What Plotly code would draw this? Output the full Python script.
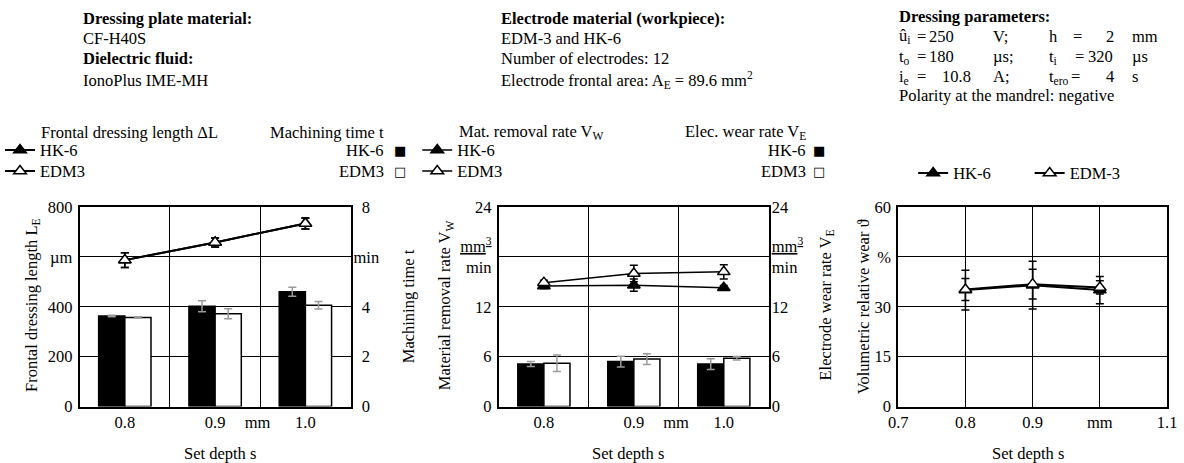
import plotly.graph_objects as go

W, H = 1184, 463
FONT = "'Liberation Serif', 'Times New Roman', Times, serif"
FS = 16.5
GRAY = "#9a9a9a"

# ---------------- data ----------------
depths = [0.8, 0.9, 1.0]

# Panel 1: frontal dressing length (um, left) and machining time (min, right)
dress_len_hk6 = [587, 658, 734]
dress_len_hk6_err = [30, 18, 22]
dress_len_edm3 = [587, 658, 734]
dress_len_edm3_err = [30, 18, 22]
mach_time_hk6 = [3.63, 4.02, 4.60]
mach_time_hk6_err = [0.03, 0.22, 0.18]
mach_time_edm3 = [3.57, 3.72, 4.06]
mach_time_edm3_err = [0.03, 0.20, 0.15]

# Panel 2: material removal rate (left) and electrode wear rate (right), mm3/min
mrr_hk6 = [14.5, 14.6, 14.3]
mrr_hk6_err = [0.3, 0.75, 0.25]
mrr_edm3 = [14.9, 16.0, 16.2]
mrr_edm3_err = [0.3, 1.0, 0.85]
ewr_hk6 = [5.1, 5.4, 5.1]
ewr_hk6_err = [0.3, 0.65, 0.65]
ewr_edm3 = [5.2, 5.7, 5.8]
ewr_edm3_err = [1.0, 0.65, 0.2]

# Panel 3: volumetric relative wear (%)
wear_hk6 = [35.0, 36.5, 35.0]
wear_hk6_err = [6.0, 7.2, 4.1]
wear_edm3 = [35.2, 36.8, 35.8]
wear_edm3_err = [3.3, 4.5, 2.0]

# tick labels
x12_tickvals = [0.8, 0.9, 0.947, 1.0]
x12_ticktext = ["0.8", "0.9", "mm", "1.0"]
x12_boundaries = [0.85, 0.95]
x3_tickvals = [0.7, 0.8, 0.9, 1.0, 1.1]
x3_ticktext = ["0.7", "0.8", "0.9", "mm", "1.1"]
y1_tickvals = [0, 200, 400, 600, 800]
y1_ticktext = ["0", "200", "400", "µm", "800"]
y2_tickvals = [0, 2, 4, 6, 8]
y2_ticktext = ["\u00a0\u00a00", "\u00a0\u00a02", "\u00a0\u00a04", "min", "\u00a0\u00a08"]
y34_tickvals = [0, 6, 12, 18, 24]
y34_ticktext = ["0", "6", "12", "<u>mm<sup>3</sup></u><br>min", "24"]
y5_tickvals = [0, 15, 30, 45, 60]
y5_ticktext = ["0", "15", "30", "%", "60"]


def px_x(v):
    return v / W


def px_y(v):
    return 1 - v / H


def line_trace(y, err, name, filled, xa, ya, legend, lw):
    return go.Scatter(
        x=depths, y=y, mode="lines+markers", name=name, xaxis=xa, yaxis=ya,
        legend=legend, cliponaxis=False,
        line=dict(color="black", width=lw),
        marker=dict(symbol="triangle-up", size=11,
                    color="black" if filled else "white",
                    line=dict(color="black", width=1.5)),
        error_y=dict(type="data", array=err, color="black", thickness=1.5, width=4),
    )


def bar_trace(y, err, name, filled, xa, ya):
    return go.Bar(
        x=depths, y=y, name=name, xaxis=xa, yaxis=ya, showlegend=False,
        marker=dict(color="black" if filled else "white",
                    line=dict(color="black", width=1.5)),
        error_y=dict(type="data", array=err, color=GRAY, thickness=1.5, width=4),
    )


fig = go.Figure()
# panel 1
fig.add_trace(bar_trace(mach_time_hk6, mach_time_hk6_err, "HK-6", True, "x", "y2"))
fig.add_trace(bar_trace(mach_time_edm3, mach_time_edm3_err, "EDM3", False, "x", "y2"))
fig.add_trace(line_trace(dress_len_hk6, dress_len_hk6_err, "HK-6", True, "x", "y", "legend", 2))
fig.add_trace(line_trace(dress_len_edm3, dress_len_edm3_err, "EDM3", False, "x", "y", "legend2", 2))
# panel 2
fig.add_trace(bar_trace(ewr_hk6, ewr_hk6_err, "HK-6", True, "x2", "y4"))
fig.add_trace(bar_trace(ewr_edm3, ewr_edm3_err, "EDM3", False, "x2", "y4"))
fig.add_trace(line_trace(mrr_hk6, mrr_hk6_err, "HK-6", True, "x2", "y3", "legend3", 1.5))
fig.add_trace(line_trace(mrr_edm3, mrr_edm3_err, "EDM3", False, "x2", "y3", "legend4", 1.5))
# panel 3
fig.add_trace(line_trace(wear_hk6, wear_hk6_err, "HK-6", True, "x3", "y5", "legend5", 2))
fig.add_trace(line_trace(wear_edm3, wear_edm3_err, "EDM-3", False, "x3", "y5", "legend6", 2))

tickfont = dict(family=FONT, size=FS, color="black")
ydom = [px_y(406.5), px_y(207)]


def xaxis_cat(dom, anchor):
    return dict(domain=dom, anchor=anchor, range=[0.75, 1.05], tickmode="array",
                tickvals=x12_tickvals, ticktext=x12_ticktext, showgrid=False,
                zeroline=False, showline=True, mirror=True, linecolor="black",
                linewidth=2, ticks="", ticklen=0, tickfont=tickfont, ticklabelstandoff=0,
                minor=dict(tickmode="array", tickvals=x12_boundaries, showgrid=True,
                           gridcolor="black", gridwidth=1.3, ticks=""))


def yaxis_left(anchor, rng, vals, text):
    return dict(domain=ydom, anchor=anchor, range=rng, tickmode="array", tickvals=vals,
                ticktext=text, showgrid=True, gridcolor="black", gridwidth=1.3,
                zeroline=False, showline=True, mirror=True, linecolor="black",
                linewidth=2, ticks="", tickfont=tickfont, ticklabelstandoff=2)


def yaxis_right(overlay, anchor, rng, vals, text):
    return dict(overlaying=overlay, anchor=anchor, side="right", range=rng,
                tickmode="array", tickvals=vals, ticktext=text, showgrid=False,
                zeroline=False, showline=False, ticks="", tickfont=tickfont,
                ticklabelstandoff=2)


layout = dict(
    width=W, height=H, margin=dict(l=0, r=0, t=0, b=0, pad=0),
    paper_bgcolor="white", plot_bgcolor="white", template="none",
    hovermode=False, barmode="group", bargap=0.42, bargroupgap=0,
    font=dict(family=FONT, size=FS, color="black"),
    xaxis=xaxis_cat([px_x(75), px_x(347)], "y"),
    xaxis2=xaxis_cat([px_x(496), px_x(767)], "y3"),
    xaxis3=dict(domain=[px_x(897), px_x(1167)], anchor="y5", range=[0.7, 1.1],
                tickmode="array", tickvals=x3_tickvals, ticktext=x3_ticktext,
                showgrid=True, gridcolor="black", gridwidth=1.3, zeroline=False,
                showline=True, mirror=True, linecolor="black", linewidth=2,
                ticks="", ticklen=0, tickfont=tickfont, ticklabelstandoff=0),
    yaxis=yaxis_left("x", [0, 800], y1_tickvals, y1_ticktext),
    yaxis2=yaxis_right("y", "x", [0, 8], y2_tickvals, y2_ticktext),
    yaxis3=yaxis_left("x2", [0, 24], y34_tickvals, y34_ticktext),
    yaxis4=yaxis_right("y3", "x2", [0, 24], y34_tickvals, y34_ticktext),
    yaxis5=yaxis_left("x3", [0, 60], y5_tickvals, y5_ticktext),
)


def leg(left_px, top_px):
    return dict(x=px_x(left_px), y=px_y(top_px), xanchor="left", yanchor="top",
                bgcolor="rgba(0,0,0,0)", borderwidth=0,
                font=dict(family=FONT, size=FS, color="black"))


layout["legend"] = leg(-5, 132.8)
layout["legend2"] = leg(-5, 153.8)
layout["legend3"] = leg(414, 132.8)
layout["legend4"] = leg(414, 153.8)
layout["legend5"] = leg(912, 155.8)
layout["legend6"] = leg(1029, 155.8)

fig.update_layout(**layout)

annotations = []


def ann(text, x, y, xanchor="left", angle=0, family=FONT, size=FS):
    annotations.append(dict(text=text, x=px_x(x), y=px_y(y), xref="paper", yref="paper",
                            xanchor=xanchor, yanchor="middle", showarrow=False,
                            textangle=angle, borderpad=0,
                            font=dict(family=family, size=size, color="black")))


# top information blocks
ann("<b>Dressing plate material:</b>", 77, 18)
ann("CF-H40S", 77, 39)
ann("<b>Dielectric fluid:</b>", 77, 59)
ann("IonoPlus IME-MH", 77, 80)

ann("<b>Electrode material (workpiece):</b>", 497, 18)
ann("EDM-3 and HK-6", 497, 39)
ann("Number of electrodes: 12", 497, 59)
ann("Electrode frontal area: A<sub>E</sub> = 89.6 mm<sup>2</sup>", 497, 80)

ann("<b>Dressing parameters:</b>", 897, 17)
rows = [
    (36, [("û<sub>i</sub>", 897, "left"), ("=", 915, "left"), ("250", 927, "left"),
          ("V;", 991, "left"), ("h", 1047, "left"), ("=", 1072, "left"),
          ("2", 1115, "right"), ("mm", 1131, "left")]),
    (56.5, [("t<sub>o</sub>", 897, "left"), ("=", 915, "left"), ("180", 927, "left"),
            ("µs;", 991, "left"), ("t<sub>i</sub>", 1047, "left"), ("=", 1074, "left"),
            ("320", 1114, "right"), ("µs", 1131, "left")]),
    (76.5, [("i<sub>e</sub>", 897, "left"), ("=", 915, "left"), ("10.8", 940, "left"),
            ("A;", 991, "left"), ("t<sub>ero</sub>", 1047, "left"), ("=", 1070, "left"),
            ("4", 1115, "right"), ("s", 1131, "left")]),
]
for yy, cells in rows:
    for txt, xx, anc in cells:
        ann(txt, xx, yy, xanchor=anc)
ann("Polarity at the mandrel: negative", 897, 95.5)

# legend headers and bar legends
ann("Frontal dressing length ΔL", 35, 132)
ann("Machining time t", 382, 132, xanchor="right")
ann("HK-6", 382, 150, xanchor="right")
ann("EDM3", 382, 171, xanchor="right")
ann("■", 397, 150, xanchor="center", family="DejaVu Sans", size=13)
ann("□", 397, 171, xanchor="center", family="DejaVu Sans", size=13)

ann("Mat. removal rate V<sub>W</sub>", 455, 132)
ann("Elec. wear rate V<sub>E</sub>", 805, 132, xanchor="right")
ann("HK-6", 805, 150, xanchor="right")
ann("EDM3", 805, 171, xanchor="right")
ann("■", 817, 150, xanchor="center", family="DejaVu Sans", size=13)
ann("□", 817, 171, xanchor="center", family="DejaVu Sans", size=13)

# axis titles
ann("Frontal dressing length L<sub>E</sub>", 27, 305, xanchor="center", angle=-90)
ann("Machining time t", 405, 306, xanchor="center", angle=-90)
ann("Material removal rate V<sub>W</sub>", 442, 305, xanchor="center", angle=-90)
ann("Electrode wear rate V<sub>E</sub>", 824, 305, xanchor="center", angle=-90)
ann("Volumetric relative wear ϑ", 862, 306, xanchor="center", angle=-90)
ann("Set depth s", 216, 453, xanchor="center")
ann("Set depth s", 626, 453, xanchor="center")
ann("Set depth s", 1027, 453, xanchor="center")

fig.update_layout(annotations=annotations)

fig.write_html("out.html", config={"displayModeBar": False})
